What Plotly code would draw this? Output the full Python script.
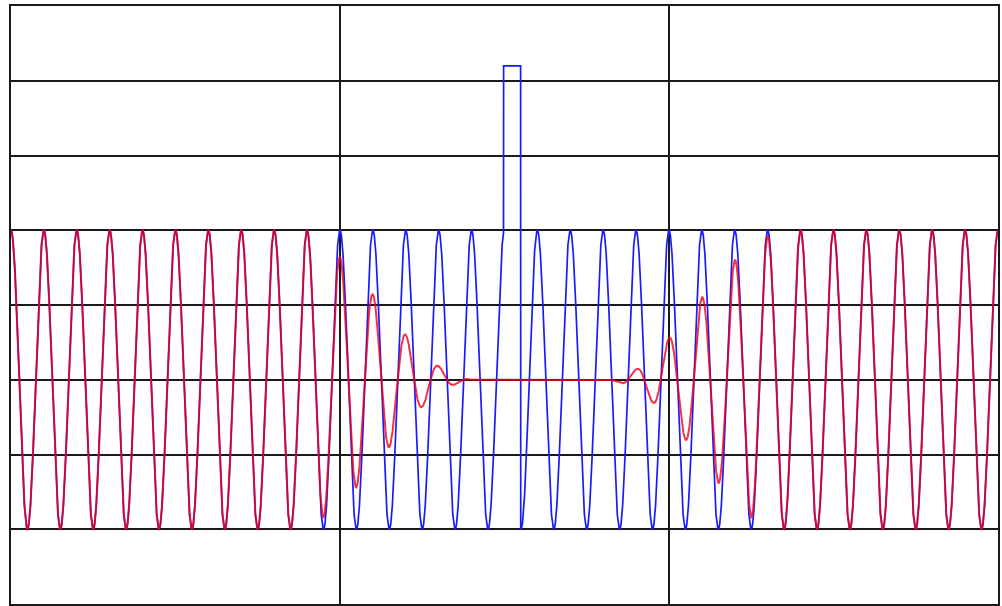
import numpy as np
import plotly.graph_objects as go

# carrier: 10 cycles per x unit, unit amplitude
carrier_freq = 10.0
carrier_amp = 1.0

# blue signal: a rectangular spike replacing the carrier
spike_start = 1.497
spike_end = 1.549
spike_level = 2.1

# red signal: envelope read at each half-period extremum
env_x = [0.0, 0.90, 0.95, 1.00, 1.05, 1.10, 1.15, 1.20, 1.25, 1.30, 1.35, 1.40,
         1.80, 1.85, 1.90, 1.95, 2.00, 2.05, 2.10, 2.15, 2.20, 2.25, 2.30, 2.35, 3.0]
env_amp = [1.0, 1.0, 0.92, 0.82, 0.72, 0.57, 0.45, 0.30, 0.18, 0.09, 0.03, 0.0,
           0.0, 0.02, 0.07, 0.15, 0.28, 0.40, 0.55, 0.69, 0.80, 0.92, 0.96, 1.0, 1.0]

x = np.linspace(0, 3, 9001)
carrier = carrier_amp * np.cos(2 * np.pi * carrier_freq * x)

blue = carrier.copy()
blue[(x >= spike_start) & (x <= spike_end)] = spike_level

red = np.interp(x, env_x, env_amp) * carrier

fig = go.Figure()
fig.add_trace(go.Scatter(x=x, y=blue, mode="lines",
                         line=dict(color="#1a1aff", width=1.7), hoverinfo="skip"))
fig.add_trace(go.Scatter(x=x, y=red, mode="lines",
                         line=dict(color="rgba(240,0,20,0.8)", width=2.0), hoverinfo="skip"))

axis_common = dict(showgrid=True, gridcolor="#1a1a1a", gridwidth=2,
                   showticklabels=False, ticks="", zeroline=False,
                   showline=True, linecolor="#1a1a1a", linewidth=2, mirror=True)
fig.update_xaxes(range=[0, 3], dtick=1, tick0=0, **axis_common)
fig.update_yaxes(range=[-1.5, 2.5], dtick=0.5, tick0=0, **axis_common)

fig.update_layout(width=1002, height=606, showlegend=False,
                  margin=dict(l=11, r=2, t=6, b=2),
                  plot_bgcolor="white", paper_bgcolor="white")

fig.write_html("out.html",
               config={"displayModeBar": False},
               post_script="document.body.style.margin='0';document.body.style.overflow='hidden';")
